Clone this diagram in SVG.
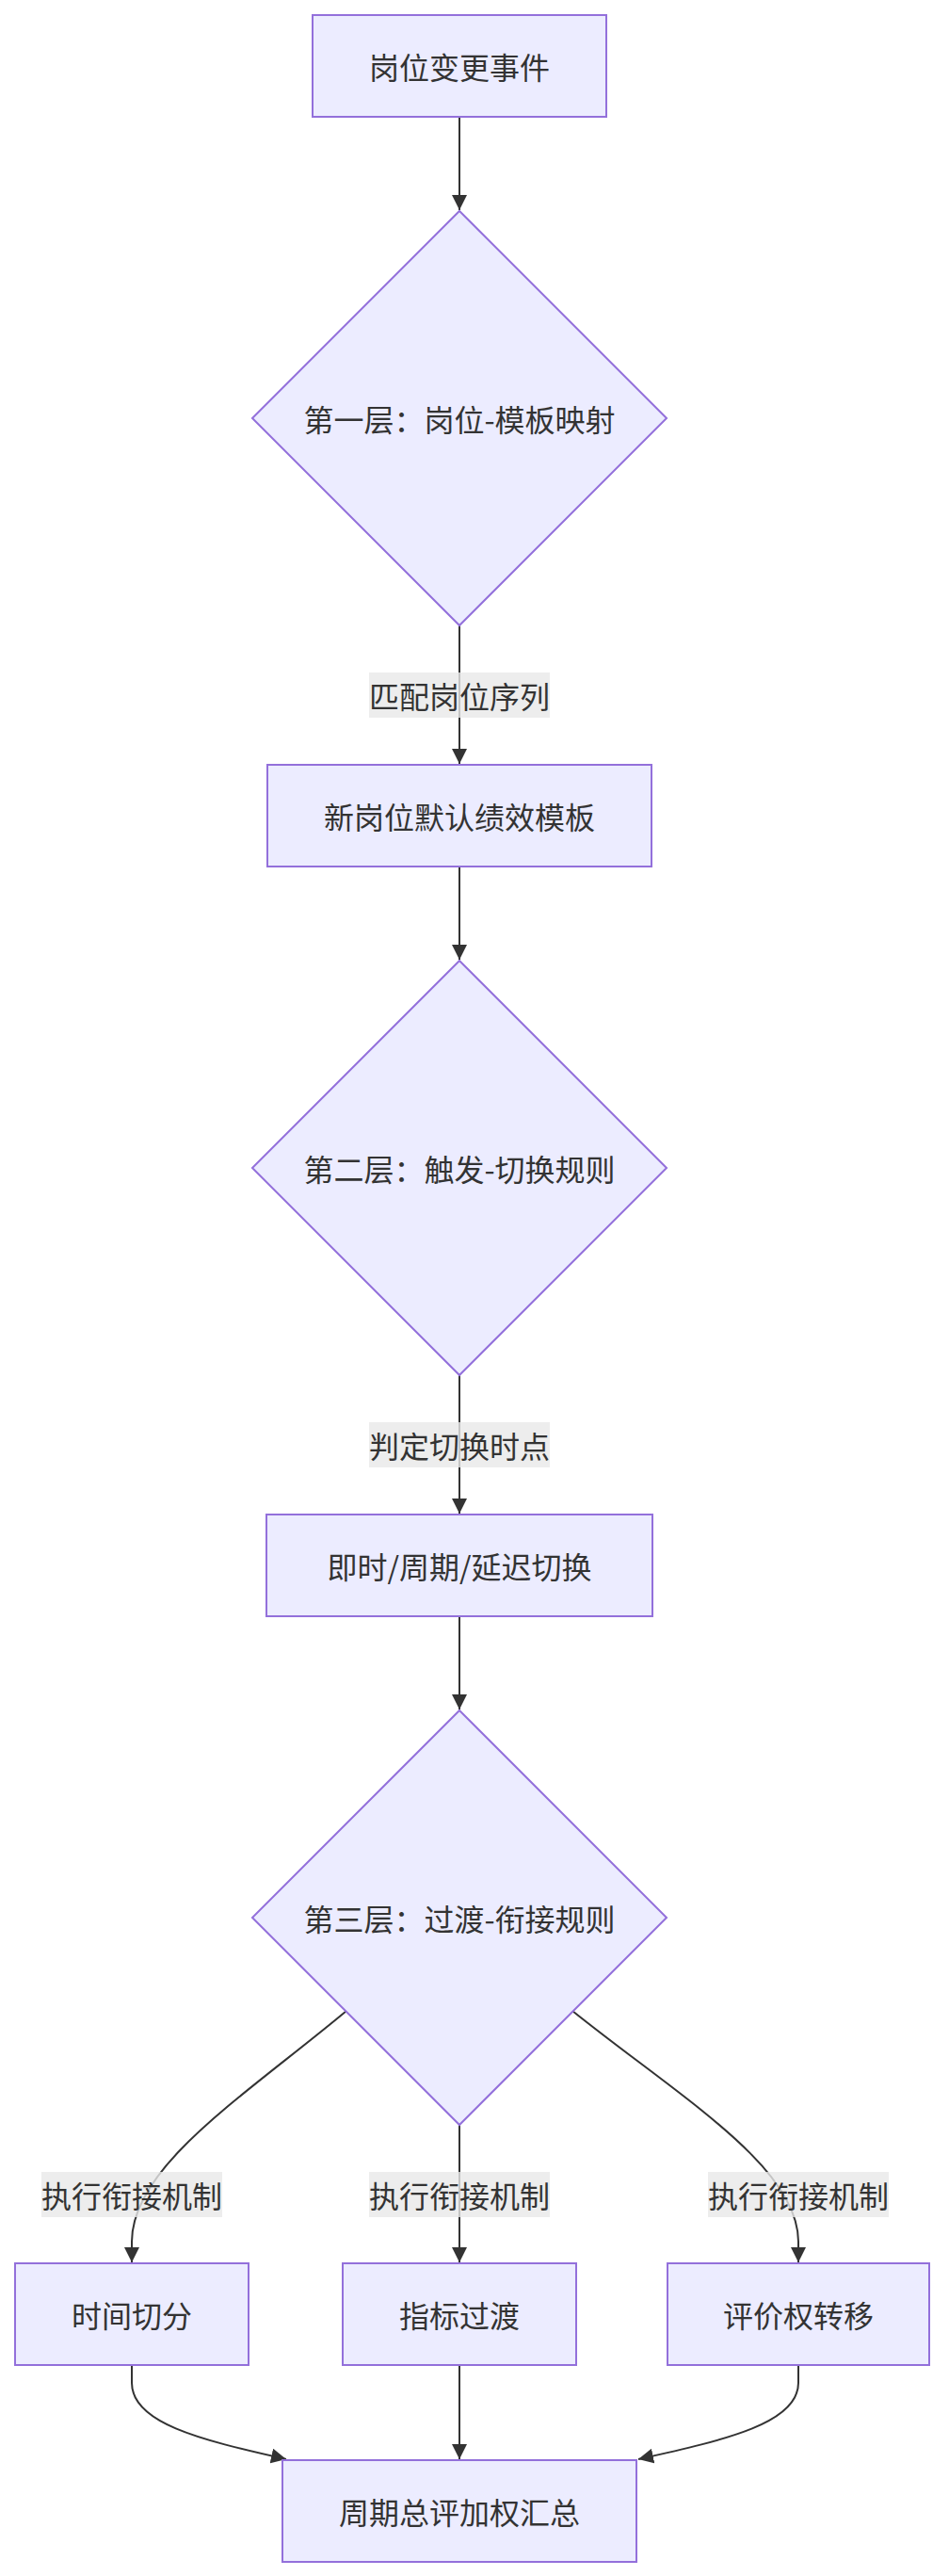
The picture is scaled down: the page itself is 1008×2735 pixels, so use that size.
<svg xmlns="http://www.w3.org/2000/svg" width="1008" height="2735" viewBox="0 0 1008 2735">
<style>
.node rect,.node polygon{fill:#ECECFF;stroke:#9370DB;stroke-width:2}
.t{font-family:"Noto Sans CJK SC","Noto Sans",sans-serif;font-size:32px;fill:#333;text-anchor:middle;dominant-baseline:central}
.edge{fill:none;stroke:#333;stroke-width:2}
.lbl rect{fill:#e8e8e8;opacity:0.8}
</style>
<defs>
<marker id="arr" viewBox="0 0 10 10" refX="10" refY="5" markerUnits="userSpaceOnUse" markerWidth="16" markerHeight="16" orient="auto">
<path d="M0,0 L10,5 L0,10 z" fill="#333"/>
</marker>
</defs>
<rect width="1008" height="2735" fill="#fff"/>
<g id="connectors">
<path class="edge" d="M488,124 L488,223" marker-end="url(#arr)"/>
<path class="edge" d="M488,664 L488,811" marker-end="url(#arr)"/>
<path class="edge" d="M488,920 L488,1019" marker-end="url(#arr)"/>
<path class="edge" d="M488,1460 L488,1607" marker-end="url(#arr)"/>
<path class="edge" d="M488,1716 L488,1815" marker-end="url(#arr)"/>
<path class="edge" d="M368,2135 C260,2225 140,2300 140,2380 L140,2402" marker-end="url(#arr)"/>
<path class="edge" d="M488,2256 L488,2402" marker-end="url(#arr)"/>
<path class="edge" d="M608,2135 C720,2225 848,2300 848,2380 L848,2402" marker-end="url(#arr)"/>
<path class="edge" d="M140,2512 L140,2530 C140,2572 210,2590 304,2611" marker-end="url(#arr)"/>
<path class="edge" d="M488,2512 L488,2611" marker-end="url(#arr)"/>
<path class="edge" d="M848,2512 L848,2530 C848,2572 774,2590 678,2611" marker-end="url(#arr)"/>
</g>
<g id="edge-labels">
<g class="lbl"><rect x="392" y="714" width="192" height="48"/><text class="t" x="488" y="738">匹配岗位序列</text></g>
<g class="lbl"><rect x="392" y="1510" width="192" height="48"/><text class="t" x="488" y="1534">判定切换时点</text></g>
<g class="lbl"><rect x="44" y="2306" width="192" height="48"/><text class="t" x="140" y="2330">执行衔接机制</text></g>
<g class="lbl"><rect x="392" y="2306" width="192" height="48"/><text class="t" x="488" y="2330">执行衔接机制</text></g>
<g class="lbl"><rect x="752" y="2306" width="192" height="48"/><text class="t" x="848" y="2330">执行衔接机制</text></g>
</g>
<g id="n1" class="node"><rect x="332" y="16" width="312" height="108"/><text class="t" x="488" y="70">岗位变更事件</text></g>
<g id="d1" class="node"><polygon points="488,224 708,444 488,664 268,444"/><text class="t" x="488" y="444">第一层：岗位-模板映射</text></g>
<g id="n2" class="node"><rect x="284" y="812" width="408" height="108"/><text class="t" x="488" y="866">新岗位默认绩效模板</text></g>
<g id="d2" class="node"><polygon points="488,1020 708,1240 488,1460 268,1240"/><text class="t" x="488" y="1240">第二层：触发-切换规则</text></g>
<g id="n3" class="node"><rect x="283" y="1608" width="410" height="108"/><text class="t" x="488" y="1662">即时/周期/延迟切换</text></g>
<g id="d3" class="node"><polygon points="488,1816 708,2036 488,2256 268,2036"/><text class="t" x="488" y="2036">第三层：过渡-衔接规则</text></g>
<g id="n4" class="node"><rect x="16" y="2403" width="248" height="108"/><text class="t" x="140" y="2457">时间切分</text></g>
<g id="n5" class="node"><rect x="364" y="2403" width="248" height="108"/><text class="t" x="488" y="2457">指标过渡</text></g>
<g id="n6" class="node"><rect x="709" y="2403" width="278" height="108"/><text class="t" x="848" y="2457">评价权转移</text></g>
<g id="n7" class="node"><rect x="300" y="2612" width="376" height="108"/><text class="t" x="488" y="2666">周期总评加权汇总</text></g>
</svg>
